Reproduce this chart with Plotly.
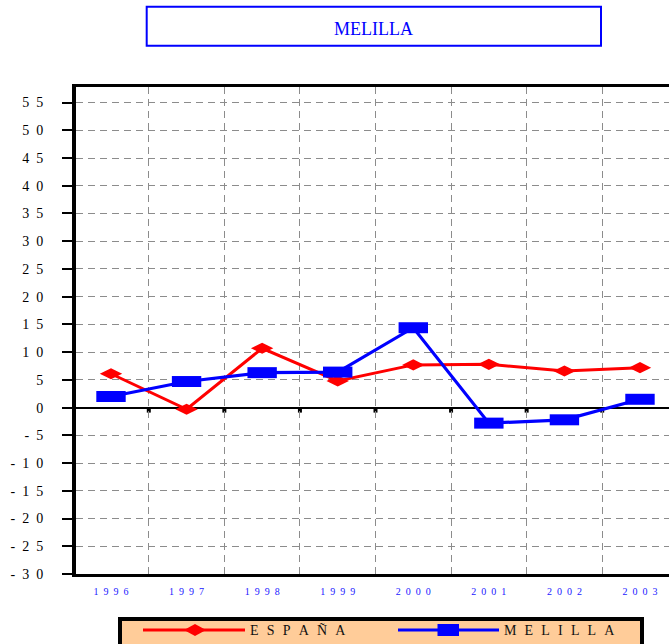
import plotly.graph_objects as go

years = ["1996", "1997", "1998", "1999", "2000", "2001", "2002", "2003"]
espana = [6.1, -0.3, 10.7, 4.8, 7.7, 7.8, 6.6, 7.2]
melilla = [2.0, 4.7, 6.3, 6.4, 14.4, -2.8, -2.2, 1.5]
y_ticks = list(range(-30, 56, 5))
title_text = "MELILLA"
legend_names = ["ESPAÑA", "MELILLA"]

SP = "\u2002"


def spaced(s, sep):
    return sep.join(list(s))


def ylab(v):
    if v < 0:
        return "-" + SP + spaced(str(-v), SP)
    return spaced(str(v), SP)


x_tick_text = [spaced(y, "\u2002") for y in years]
y_tick_text = [ylab(v) for v in y_ticks]

RED = "#ff0000"
BLUE = "#0000ff"

fig = go.Figure()
fig.add_trace(go.Scatter(
    x=years, y=espana, mode="lines+markers", name=legend_names[0],
    line=dict(color=RED, width=3),
    marker=dict(symbol="diamond-wide", size=16, color=RED),
    showlegend=False,
))
fig.add_trace(go.Scatter(
    x=years, y=melilla, mode="lines+markers", name=legend_names[1],
    line=dict(color=BLUE, width=3.2),
    marker=dict(symbol="line-ew", size=21, color=BLUE, line=dict(width=11, color=BLUE)),
    showlegend=False,
))

W, H = 669, 644
L, R, T, B = 76, 0, 87, 70
PW = W - L - R
PH = H - T - B


def px(x):
    return (x - L) / PW


def py(y):
    return (H - B - y) / PH


shapes = []
# small black ticks under the zero line at category boundaries
for i in range(len(years) - 1):
    shapes.append(dict(type="rect", xref="x", yref="y", xsizemode="pixel", ysizemode="pixel",
                       xanchor=i + 0.5, yanchor=0, x0=-2, x1=2, y0=-5, y1=0,
                       fillcolor="black", line=dict(width=0), layer="below"))
# title box
shapes.append(dict(type="rect", xref="paper", yref="paper",
                   x0=px(146.7), x1=px(601), y0=py(45.7), y1=py(6.7),
                   line=dict(color=BLUE, width=2), fillcolor="white"))
# legend box
shapes.append(dict(type="rect", xref="paper", yref="paper",
                   x0=px(120), x1=px(642), y0=py(660), y1=py(619),
                   line=dict(color="black", width=4), fillcolor="#ffcc99"))
ly = 630
# España sample
shapes.append(dict(type="line", xref="paper", yref="paper",
                   x0=px(143), x1=px(245), y0=py(ly), y1=py(ly),
                   line=dict(color=RED, width=3)))
cx = 195
shapes.append(dict(type="path", xref="paper", yref="paper",
                   path=f"M {px(cx-11)},{py(ly)} L {px(cx)},{py(ly-6)} L {px(cx+11)},{py(ly)} L {px(cx)},{py(ly+6)} Z",
                   fillcolor=RED, line=dict(width=0)))
# Melilla sample
shapes.append(dict(type="line", xref="paper", yref="paper",
                   x0=px(398), x1=px(499), y0=py(ly), y1=py(ly),
                   line=dict(color=BLUE, width=3)))
shapes.append(dict(type="rect", xref="paper", yref="paper",
                   x0=px(437.5), x1=px(459), y0=py(ly + 6), y1=py(ly - 6),
                   fillcolor=BLUE, line=dict(width=0)))

LEG_SEP = "\u2002\u200a"
annotations = [
    dict(text=title_text, xref="paper", yref="paper", x=px(373.5), y=py(29),
         xanchor="center", yanchor="middle", showarrow=False,
         font=dict(family="Liberation Serif", size=18, color=BLUE)),
    dict(text=spaced(legend_names[0], LEG_SEP), xref="paper", yref="paper",
         x=px(248), y=py(ly), xanchor="left", yanchor="middle", showarrow=False,
         font=dict(family="Liberation Serif", size=14, color="#111111")),
    dict(text=spaced(legend_names[1], LEG_SEP), xref="paper", yref="paper",
         x=px(502), y=py(ly), xanchor="left", yanchor="middle", showarrow=False,
         font=dict(family="Liberation Serif", size=14, color="#111111")),
]

fig.update_layout(
    width=W, height=H,
    margin=dict(l=L, r=R, t=T, b=B, pad=0),
    paper_bgcolor="white", plot_bgcolor="white",
    showlegend=False,
    shapes=shapes, annotations=annotations,
    xaxis=dict(
        type="category", range=[(L - 111) / 75.57, (W - 111) / 75.57],
        tickvals=years, ticktext=x_tick_text, tickson="boundaries",
        showgrid=True, gridcolor="#8c8c8c", gridwidth=1, griddash="7px,5px",
        showline=True, linecolor="black", linewidth=3, mirror=True,
        ticks="", ticklabelstandoff=6,
        tickfont=dict(family="Liberation Serif", size=10, color="#2020ff"),
        zeroline=False, fixedrange=True,
    ),
    yaxis=dict(
        range=[-30, 57.8], tickvals=y_ticks, ticktext=y_tick_text,
        showgrid=True, gridcolor="#8c8c8c", gridwidth=1, griddash="7px,5px",
        zeroline=True, zerolinecolor="black", zerolinewidth=2,
        showline=True, linecolor="black", linewidth=4, mirror=False,
        ticks="outside", ticklen=10, tickwidth=2, tickcolor="black",
        ticklabelstandoff=16,
        tickfont=dict(family="Liberation Serif", size=14, color="black"),
        fixedrange=True,
    ),
)

fig.write_html(
    "out.html",
    config={"displayModeBar": False},
    post_script="document.body.style.margin='0px';document.body.style.overflow='hidden';",
)
